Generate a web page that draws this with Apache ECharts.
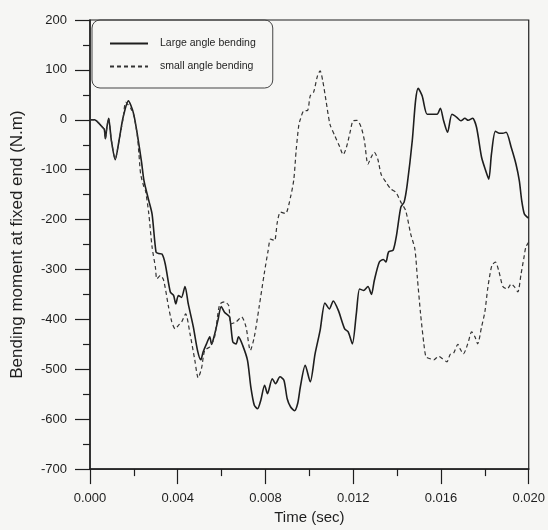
<!DOCTYPE html>
<html>
<head>
<meta charset="utf-8">
<title>Bending moment</title>
<script src="https://cdn.jsdelivr.net/npm/echarts@6/dist/echarts.min.js"></script>
<style>
  html, body { margin: 0; padding: 0; background: #f6f6f4; }
  #chart { width: 548px; height: 530px; }
</style>
</head>
<body>
<div id="chart"></div>
<script>
// time (s) and moment (N.m)
const largeT = [0, 0.0002, 0.00043, 0.00055, 0.00065, 0.0007, 0.00077, 0.00085, 0.00097, 0.00115,
  0.00133, 0.00151, 0.00175, 0.00187, 0.002, 0.00215, 0.00235, 0.00246, 0.00268, 0.00283,
  0.00301, 0.00313, 0.00328, 0.00343, 0.00366, 0.00381, 0.00391, 0.00403, 0.00417, 0.00433,
  0.00448, 0.00471, 0.0049, 0.00505, 0.00516, 0.00531, 0.00546, 0.00554, 0.00568, 0.00583,
  0.00598, 0.00614, 0.00636, 0.00651, 0.00666, 0.00677, 0.00696, 0.00718, 0.00733, 0.00749,
  0.00764, 0.00778, 0.00796, 0.00809, 0.00831, 0.00846, 0.00866, 0.00884, 0.00899, 0.00914,
  0.00932, 0.00947, 0.00959, 0.00981, 0.01004, 0.01026, 0.01049, 0.01071, 0.01091, 0.01109,
  0.01132, 0.01161, 0.01177, 0.01196, 0.01214, 0.01229, 0.01247, 0.01267, 0.01283, 0.01296,
  0.01319, 0.01337, 0.01349, 0.01361, 0.01382, 0.01397, 0.01417, 0.01432, 0.01446, 0.01469,
  0.01484, 0.01496, 0.01514, 0.01537, 0.01559, 0.01582, 0.01597, 0.01612, 0.0163, 0.0165,
  0.01672, 0.01691, 0.01709, 0.01724, 0.01744, 0.01762, 0.01785, 0.01804, 0.01818, 0.0183,
  0.01848, 0.01867, 0.01882, 0.01897, 0.0192, 0.01942, 0.01957, 0.01968, 0.0198, 0.01993, 0.02]
const largeV = [0, 0, -8, -14, -19, -38, -15, 3, -40, -80,
  -40, 5, 38, 28, 10, -27, -85, -122, -162, -189,
  -265, -268, -269, -289, -345, -352, -369, -352, -356, -334,
  -369, -415, -462, -481, -465, -449, -435, -450, -430, -402,
  -374, -386, -395, -445, -449, -435, -452, -482, -535, -572,
  -579, -563, -532, -549, -519, -529, -515, -522, -559, -575,
  -583, -568, -535, -492, -525, -469, -422, -367, -379, -363,
  -382, -419, -425, -449, -389, -339, -342, -334, -350, -322,
  -285, -280, -285, -265, -261, -232, -175, -165, -130, -42,
  38, 63, 48, 11, 11, 11, 23, -2, -25, 11,
  5, -2, 3, -1, 3, -15, -75, -102, -119, -69,
  -23, -27, -27, -25, -55, -89, -122, -162, -189, -195, -197]

const smallT = [0, 0.0002, 0.00043, 0.00055, 0.00065, 0.0007, 0.00077, 0.00085, 0.00097, 0.00115,
  0.00133, 0.00151, 0.00163, 0.00187, 0.002, 0.00215, 0.00223, 0.00231, 0.00246, 0.00253,
  0.00268, 0.00283, 0.00298, 0.00305, 0.00321, 0.00336, 0.00358, 0.00373, 0.00388, 0.00403,
  0.00418, 0.00436, 0.00456, 0.00478, 0.00493, 0.00508, 0.00523, 0.00546, 0.00568, 0.00591,
  0.00614, 0.00632, 0.00643, 0.00666, 0.00691, 0.00711, 0.00731, 0.00749, 0.00771, 0.00794,
  0.00812, 0.00823, 0.00841, 0.00854, 0.00868, 0.00891, 0.00914, 0.00929, 0.0094, 0.00952,
  0.00959, 0.00974, 0.00992, 0.01004, 0.01019, 0.01037, 0.01049, 0.01061, 0.01076, 0.01094,
  0.01116, 0.01139, 0.01154, 0.01169, 0.01187, 0.01199, 0.01217, 0.01236, 0.01251, 0.01267,
  0.01282, 0.01296, 0.01312, 0.01327, 0.01349, 0.01372, 0.01394, 0.01417, 0.01439, 0.01462,
  0.01481, 0.01492, 0.01507, 0.01522, 0.01532, 0.01552, 0.01567, 0.01589, 0.01607, 0.01627,
  0.01642, 0.01657, 0.01677, 0.01687, 0.01702, 0.01722, 0.0174, 0.01755, 0.01767, 0.01785,
  0.018, 0.01814, 0.01832, 0.01848, 0.01863, 0.01882, 0.01902, 0.0192, 0.01935, 0.0195,
  0.01965, 0.01977, 0.01987, 0.02]
const smallV = [0, 0, -8, -14, -19, -38, -15, 3, -40, -78,
  -40, 3, 35, 22, 8, -29, -68, -109, -135, -142,
  -188, -255, -295, -319, -312, -322, -375, -405, -419, -412,
  -405, -389, -429, -482, -517, -499, -462, -455, -435, -370,
  -365, -372, -409, -405, -395, -415, -462, -435, -375, -309,
  -262, -239, -242, -205, -185, -188, -155, -120, -60, -10,
  1, 18, 19, 48, 55, 88, 98, 78, 38, -9,
  -32, -55, -70, -55, -22, -2, -1, -15, -42, -89,
  -75, -65, -79, -109, -125, -139, -145, -165, -182, -229,
  -259, -315, -389, -449, -475, -479, -481, -474, -479, -485,
  -470, -468, -450, -459, -469, -449, -425, -435, -449, -415,
  -385, -335, -292, -285, -302, -334, -339, -329, -335, -345,
  -309, -279, -255, -245]

const seriesNames = ['Large angle bending', 'small angle bending']

const ink = '#1e1e1e'
const font = 'Liberation Sans, Arial, sans-serif'

const chart = echarts.init(document.getElementById('chart'))

chart.setOption({
  backgroundColor: '#f6f6f4',
  animation: false,
  grid: {
    left: 90, right: 14, top: 20, bottom: 60,
    show: true,
    borderColor: ink,
    borderWidth: 1.2,
  },
  legend: {
    orient: 'vertical',
    left: 92,
    top: 20,
    padding: [18, 17, 16, 17],
    itemWidth: 38,
    itemHeight: 10,
    itemGap: 12,
    backgroundColor: 'rgba(0,0,0,0)',
    borderColor: '#444',
    borderWidth: 1,
    borderRadius: 8,
    data: seriesNames,
    itemStyle: { opacity: 0 },
    textStyle: { color: ink, fontSize: 10.5, fontFamily: font, padding: [0, 0, 0, 7] },
  },
  xAxis: {
    type: 'value',
    min: 0,
    max: 0.02,
    interval: 0.004,
    name: 'Time (sec)',
    nameLocation: 'middle',
    nameGap: 40,
    nameTextStyle: { color: ink, fontSize: 15, fontFamily: font },
    axisLine: { onZero: false, lineStyle: { color: ink, width: 1.5 } },
    axisTick: { inside: false, length: 15, lineStyle: { color: ink, width: 1.2 } },
    minorTick: { show: true, splitNumber: 2, length: 7, lineStyle: { color: ink, width: 1.2 } },
    axisLabel: {
      color: ink, fontSize: 13, fontFamily: font, margin: 23,
      formatter: (v) => v.toFixed(3),
    },
    splitLine: { show: false },
  },
  yAxis: {
    type: 'value',
    min: -700,
    max: 200,
    interval: 100,
    name: 'Bending moment at fixed end (N.m)',
    nameLocation: 'middle',
    nameGap: 64,
    nameTextStyle: { color: ink, fontSize: 17, fontFamily: font },
    axisLine: { onZero: false, lineStyle: { color: ink, width: 1.5 } },
    axisTick: { inside: false, length: 15, lineStyle: { color: ink, width: 1.2 } },
    minorTick: { show: true, splitNumber: 2, length: 7, lineStyle: { color: ink, width: 1.2 } },
    axisLabel: { color: ink, fontSize: 13, fontFamily: font, margin: 23 },
    splitLine: { show: false },
  },
  series: [
    {
      name: seriesNames[0],
      type: 'line',
      smooth: 0.25,
      symbol: 'none',
      data: largeT.map((t, i) => [t, largeV[i]]),
      lineStyle: { color: ink, width: 1.6 },
      itemStyle: { color: ink },
    },
    {
      name: seriesNames[1],
      type: 'line',
      smooth: 0.25,
      symbol: 'none',
      data: smallT.map((t, i) => [t, smallV[i]]),
      lineStyle: { color: '#333', width: 1.2, type: [4, 3] },
      itemStyle: { color: '#333' },
    },
  ],
})
</script>
</body>
</html>
